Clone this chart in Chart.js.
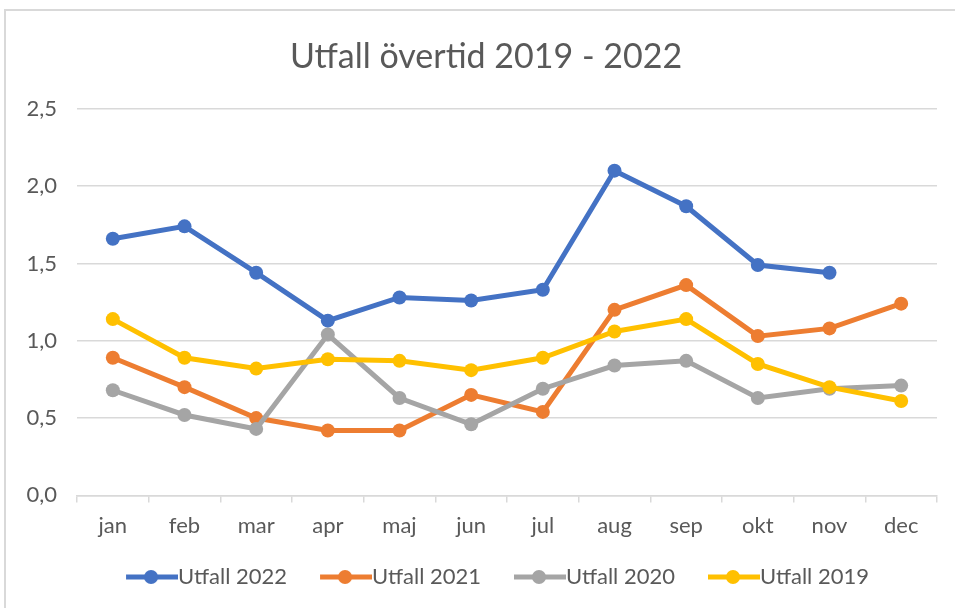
<!DOCTYPE html>
<html>
<head>
<meta charset="utf-8">
<script src="https://cdn.jsdelivr.net/npm/chart.js@4/dist/chart.umd.min.js"></script>
<style>
  html, body { margin: 0; padding: 0; background: #ffffff; overflow: hidden; }
  #wrap { position: relative; width: 955px; height: 608px; }
  #frame { position: absolute; left: 4px; top: 9px; width: 1000px; height: 700px; border: 2px solid #d9d9d9; box-sizing: border-box; }
  #c { position: absolute; left: 0; top: 0; }
</style>
</head>
<body>
<div id="wrap">
  <div id="frame"></div>
  <canvas id="c" width="955" height="608"></canvas>
</div>
<script>
const months = ['jan','feb','mar','apr','maj','jun','jul','aug','sep','okt','nov','dec'];
const utfall2022 = [1.66, 1.74, 1.44, 1.13, 1.28, 1.26, 1.33, 2.10, 1.87, 1.49, 1.44, null];
const utfall2021 = [0.89, 0.70, 0.50, 0.42, 0.42, 0.65, 0.54, 1.20, 1.36, 1.03, 1.08, 1.24];
const utfall2020 = [0.68, 0.52, 0.43, 1.04, 0.63, 0.46, 0.69, 0.84, 0.87, 0.63, 0.69, 0.71];
const utfall2019 = [1.14, 0.89, 0.82, 0.88, 0.87, 0.81, 0.89, 1.06, 1.14, 0.85, 0.70, 0.61];
const yTicks = [0, 0.5, 1.0, 1.5, 2.0, 2.5];

const FONT = 'Lato, "Liberation Sans", sans-serif';
const TXT = '#595959';

function legendIcon(color) {
  const W = 86, H = 16, g = 34;
  const cv = document.createElement('canvas');
  cv.width = W; cv.height = H;
  const x = cv.getContext('2d');
  x.strokeStyle = color; x.lineWidth = 5; x.lineCap = 'butt';
  x.beginPath(); x.moveTo(g, H / 2); x.lineTo(W, H / 2); x.stroke();
  x.fillStyle = color;
  x.beginPath(); x.arc(g + 25, H / 2, 7, 0, Math.PI * 2); x.fill();
  return cv;
}

function ds(label, data, color, order) {
  return {
    label, data, order,
    borderColor: color, backgroundColor: color,
    pointBackgroundColor: color, pointBorderColor: color,
    borderWidth: 5, pointRadius: 7, pointBorderWidth: 0, pointHoverRadius: 7,
    tension: 0, spanGaps: false,
    _icon: legendIcon(color)
  };
}

const datasets = [
  ds('Utfall 2022', utfall2022, '#4472C4', 4),
  ds('Utfall 2021', utfall2021, '#ED7D31', 3),
  ds('Utfall 2020', utfall2020, '#A5A5A5', 2),
  ds('Utfall 2019', utfall2019, '#FFC000', 1)
];

new Chart(document.getElementById('c'), {
  type: 'line',
  data: { labels: months, datasets },
  options: {
    responsive: false,
    animation: false,
    layout: { padding: { left: 17, right: 0, top: 0, bottom: 10 } },
    plugins: {
      tooltip: { enabled: false },
      title: {
        display: true,
        text: 'Utfall övertid 2019 - 2022',
        color: TXT,
        font: { family: FONT, size: 34, weight: 'normal' },
        padding: { top: 37, bottom: 31 }
      },
      legend: {
        position: 'bottom',
        title: { display: true, text: '', font: { size: 6 }, padding: { top: 0, bottom: 0 } },
        labels: {
          color: TXT,
          font: { family: FONT, size: 22 },
          usePointStyle: true,
          pointStyleWidth: 64,
          padding: 10,
          sort: (a, b) => a.datasetIndex - b.datasetIndex,
          generateLabels: (chart) => chart.data.datasets.map((d, i) => ({
            text: d.label,
            fillStyle: d.borderColor,
            strokeStyle: d.borderColor,
            fontColor: TXT,
            lineWidth: 0,
            pointStyle: d._icon,
            hidden: false,
            datasetIndex: i
          }))
        }
      }
    },
    scales: {
      x: {
        offset: true,
        grid: { offset: true, drawOnChartArea: false, drawTicks: true, tickLength: 7, color: '#d9d9d9', lineWidth: 1.5 },
        border: { display: true, color: '#d9d9d9', width: 1.5 },
        ticks: { color: TXT, font: { family: FONT, size: 22 }, padding: 10, autoSkip: false, maxRotation: 0 }
      },
      y: {
        min: 0, max: 2.5,
        afterBuildTicks: (s) => { s.ticks = yTicks.map(v => ({ value: v })); },
        afterFit: (s) => { s.width = 60; },
        grid: { drawTicks: false, color: '#d9d9d9', lineWidth: 1.5 },
        border: { display: false },
        ticks: {
          color: TXT, font: { family: FONT, size: 22 }, padding: 20,
          callback: (v) => Number(v).toFixed(1).replace('.', ',')
        }
      },
      yRight: {
        position: 'right',
        display: true,
        min: 0, max: 2.5,
        afterFit: (s) => { s.width = 18; },
        grid: { display: false, drawTicks: false },
        border: { display: false },
        ticks: { display: false }
      }
    }
  }
});
</script>
</body>
</html>
